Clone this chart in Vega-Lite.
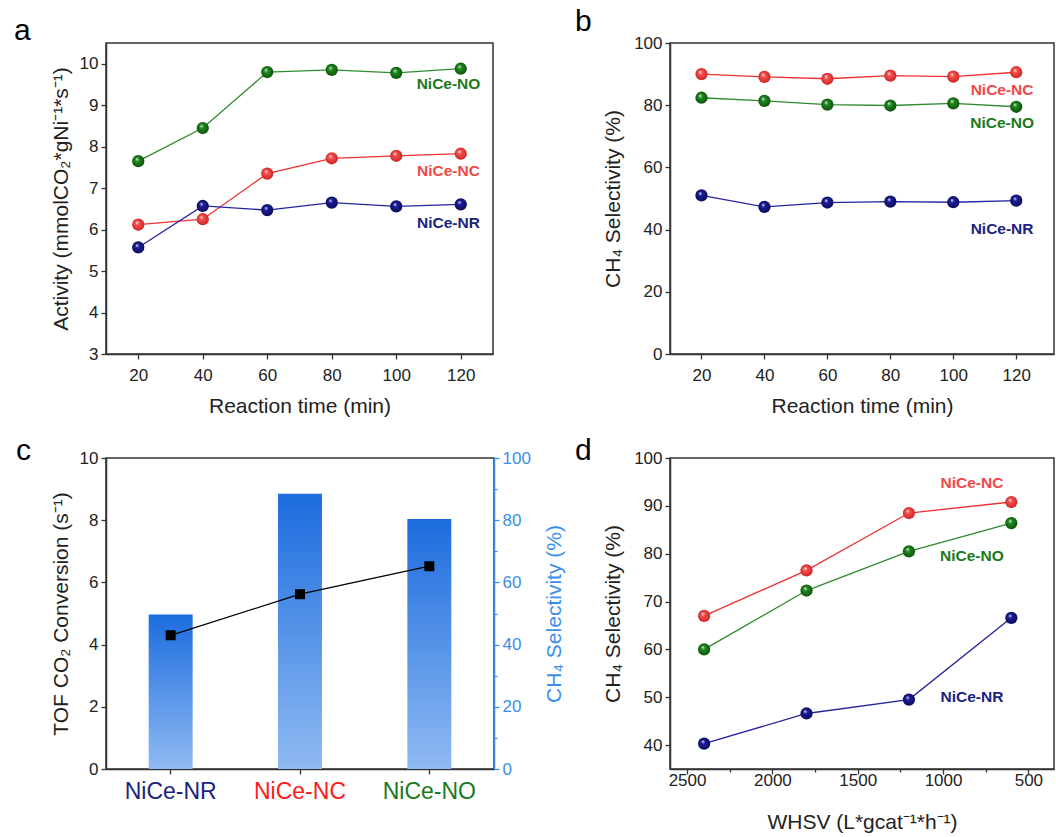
{
  "$schema": "https://vega.github.io/schema/vega-lite/v6.json",
  "padding": {"left": 13, "top": 6, "right": 0, "bottom": 0},
  "background": "white",
  "datasets": {
    "act": [
      {"time": 20, "act": 7.65, "series": "NiCe-NO"},
      {"time": 40, "act": 8.45, "series": "NiCe-NO"},
      {"time": 60, "act": 9.8, "series": "NiCe-NO"},
      {"time": 80, "act": 9.85, "series": "NiCe-NO"},
      {"time": 100, "act": 9.78, "series": "NiCe-NO"},
      {"time": 120, "act": 9.88, "series": "NiCe-NO"},
      {"time": 20, "act": 6.12, "series": "NiCe-NC"},
      {"time": 40, "act": 6.25, "series": "NiCe-NC"},
      {"time": 60, "act": 7.35, "series": "NiCe-NC"},
      {"time": 80, "act": 7.72, "series": "NiCe-NC"},
      {"time": 100, "act": 7.78, "series": "NiCe-NC"},
      {"time": 120, "act": 7.83, "series": "NiCe-NC"},
      {"time": 20, "act": 5.57, "series": "NiCe-NR"},
      {"time": 40, "act": 6.57, "series": "NiCe-NR"},
      {"time": 60, "act": 6.47, "series": "NiCe-NR"},
      {"time": 80, "act": 6.65, "series": "NiCe-NR"},
      {"time": 100, "act": 6.56, "series": "NiCe-NR"},
      {"time": 120, "act": 6.61, "series": "NiCe-NR"}
    ],
    "actLabels": [
      {"lx": 116.2, "ly": 9.51, "label": "NiCe-NO"},
      {"lx": 116.2, "ly": 7.41, "label": "NiCe-NC"},
      {"lx": 116.2, "ly": 6.15, "label": "NiCe-NR"}
    ],
    "sel": [
      {"time": 20, "sel": 90.0, "series": "NiCe-NC"},
      {"time": 40, "sel": 89.1, "series": "NiCe-NC"},
      {"time": 60, "sel": 88.5, "series": "NiCe-NC"},
      {"time": 80, "sel": 89.5, "series": "NiCe-NC"},
      {"time": 100, "sel": 89.2, "series": "NiCe-NC"},
      {"time": 120, "sel": 90.6, "series": "NiCe-NC"},
      {"time": 20, "sel": 82.4, "series": "NiCe-NO"},
      {"time": 40, "sel": 81.4, "series": "NiCe-NO"},
      {"time": 60, "sel": 80.2, "series": "NiCe-NO"},
      {"time": 80, "sel": 79.9, "series": "NiCe-NO"},
      {"time": 100, "sel": 80.6, "series": "NiCe-NO"},
      {"time": 120, "sel": 79.5, "series": "NiCe-NO"},
      {"time": 20, "sel": 51.0, "series": "NiCe-NR"},
      {"time": 40, "sel": 47.3, "series": "NiCe-NR"},
      {"time": 60, "sel": 48.7, "series": "NiCe-NR"},
      {"time": 80, "sel": 49.0, "series": "NiCe-NR"},
      {"time": 100, "sel": 48.8, "series": "NiCe-NR"},
      {"time": 120, "sel": 49.3, "series": "NiCe-NR"}
    ],
    "selLabels": [
      {"lx": 115.5, "ly": 84.9, "label": "NiCe-NC"},
      {"lx": 115.5, "ly": 74.3, "label": "NiCe-NO"},
      {"lx": 115.5, "ly": 40.2, "label": "NiCe-NR"}
    ],
    "tof": [
      {"cat": "NiCe-NR", "sel": 49.7, "tof": 4.3},
      {"cat": "NiCe-NC", "sel": 88.5, "tof": 5.62},
      {"cat": "NiCe-NO", "sel": 80.4, "tof": 6.52}
    ],
    "whsv": [
      {"whsv": 2400, "sel": 67.0, "series": "NiCe-NC"},
      {"whsv": 1800, "sel": 76.5, "series": "NiCe-NC"},
      {"whsv": 1200, "sel": 88.5, "series": "NiCe-NC"},
      {"whsv": 600, "sel": 90.8, "series": "NiCe-NC"},
      {"whsv": 2400, "sel": 60.0, "series": "NiCe-NO"},
      {"whsv": 1800, "sel": 72.3, "series": "NiCe-NO"},
      {"whsv": 1200, "sel": 80.5, "series": "NiCe-NO"},
      {"whsv": 600, "sel": 86.4, "series": "NiCe-NO"},
      {"whsv": 2400, "sel": 40.3, "series": "NiCe-NR"},
      {"whsv": 1800, "sel": 46.6, "series": "NiCe-NR"},
      {"whsv": 1200, "sel": 49.5, "series": "NiCe-NR"},
      {"whsv": 600, "sel": 66.6, "series": "NiCe-NR"}
    ],
    "whsvLabels": [
      {"lx": 831, "ly": 94.8, "label": "NiCe-NC"},
      {"lx": 831, "ly": 79.5, "label": "NiCe-NO"},
      {"lx": 831, "ly": 50.0, "label": "NiCe-NR"}
    ]
  },
  "columns": 2,
  "spacing": {"row": 104, "column": 176},
  "bounds": "flush",
  "concat": [
    {
      "title": {"text": "a", "anchor": "start", "frame": "group", "dx": -92, "offset": -3, "fontSize": 30, "fontWeight": "normal", "color": "#000"},
      "width": 387,
      "height": 311,
      "layer": [
        {
          "data": {"name": "act"},
          "mark": {"type": "line", "strokeWidth": 1.3},
          "encoding": {
            "x": {"field": "time", "type": "quantitative", "scale": {"domain": [10, 130], "nice": false, "zero": false},
              "axis": {"title": "Reaction time (min)", "values": [20, 30, 40, 50, 60, 70, 80, 90, 100, 110, 120],
                "labelExpr": "datum.value % 20 == 0 ? datum.value : ''",
                "tickSize": {"condition": {"test": "datum.value % 20 == 0", "value": 5}, "value": 3},
                "labelOverlap": false, "labelPadding": 8, "titlePadding": 12}},
            "y": {"field": "act", "type": "quantitative", "scale": {"domain": [3, 10.5], "nice": false, "zero": false},
              "axis": {"title": "Activity (mmolCO₂*gNi⁻¹*s⁻¹)", "values": [3, 4, 5, 6, 7, 8, 9, 10], "tickSize": 5, "labelOverlap": false, "labelPadding": 3, "titlePadding": 8}},
            "color": {"field": "series", "type": "nominal", "legend": null,
              "scale": {"domain": ["NiCe-NR", "NiCe-NC", "NiCe-NO"], "range": ["#2424a0", "#f03030", "#2e8b2e"]}}
          }
        },
        {
          "data": {"name": "act"},
          "transform": [{"filter": "datum.series == 'NiCe-NO'"}],
          "mark": {"type": "point", "shape": "circle", "filled": true, "size": 150, "opacity": 1, "strokeWidth": 0,
            "fill": {"gradient": "radial", "x1": 0.38, "y1": 0.32, "r1": 0, "x2": 0.5, "y2": 0.5, "r2": 0.55,
              "stops": [{"offset": 0, "color": "#e8f5e8"}, {"offset": 0.3, "color": "#1f8a1f"}, {"offset": 1, "color": "#0b4d0b"}]}},
          "encoding": {"x": {"field": "time", "type": "quantitative"}, "y": {"field": "act", "type": "quantitative"}}
        },
        {
          "data": {"name": "act"},
          "transform": [{"filter": "datum.series == 'NiCe-NC'"}],
          "mark": {"type": "point", "shape": "circle", "filled": true, "size": 150, "opacity": 1, "strokeWidth": 0,
            "fill": {"gradient": "radial", "x1": 0.38, "y1": 0.32, "r1": 0, "x2": 0.5, "y2": 0.5, "r2": 0.55,
              "stops": [{"offset": 0, "color": "#fff0f0"}, {"offset": 0.3, "color": "#f55050"}, {"offset": 1, "color": "#c82020"}]}},
          "encoding": {"x": {"field": "time", "type": "quantitative"}, "y": {"field": "act", "type": "quantitative"}}
        },
        {
          "data": {"name": "act"},
          "transform": [{"filter": "datum.series == 'NiCe-NR'"}],
          "mark": {"type": "point", "shape": "circle", "filled": true, "size": 150, "opacity": 1, "strokeWidth": 0,
            "fill": {"gradient": "radial", "x1": 0.38, "y1": 0.32, "r1": 0, "x2": 0.5, "y2": 0.5, "r2": 0.55,
              "stops": [{"offset": 0, "color": "#e8e8ff"}, {"offset": 0.3, "color": "#1c1c96"}, {"offset": 1, "color": "#0a0a55"}]}},
          "encoding": {"x": {"field": "time", "type": "quantitative"}, "y": {"field": "act", "type": "quantitative"}}
        },
        {
          "data": {"name": "actLabels"},
          "mark": {"type": "text", "fontWeight": "bold", "fontSize": 15.5, "align": "center", "baseline": "middle"},
          "encoding": {
            "x": {"field": "lx", "type": "quantitative"},
            "y": {"field": "ly", "type": "quantitative"},
            "text": {"field": "label"},
            "color": {"field": "label", "type": "nominal", "legend": null,
              "scale": {"domain": ["NiCe-NR", "NiCe-NC", "NiCe-NO"], "range": ["#1a237e", "#f04848", "#1a7a1a"]}}
          }
        }
      ],
      "resolve": {"scale": {"color": "independent"}}
    },
    {
      "title": {"text": "b", "anchor": "start", "frame": "group", "dx": -95, "offset": -3, "fontSize": 30, "fontWeight": "normal", "color": "#000"},
      "width": 384,
      "height": 311,
      "layer": [
        {
          "data": {"name": "sel"},
          "mark": {"type": "line", "strokeWidth": 1.3},
          "encoding": {
            "x": {"field": "time", "type": "quantitative", "scale": {"domain": [10, 132], "nice": false, "zero": false},
              "axis": {"title": "Reaction time (min)", "values": [20, 30, 40, 50, 60, 70, 80, 90, 100, 110, 120],
                "labelExpr": "datum.value % 20 == 0 ? datum.value : ''",
                "tickSize": {"condition": {"test": "datum.value % 20 == 0", "value": 5}, "value": 3},
                "labelOverlap": false, "labelPadding": 8, "titlePadding": 12}},
            "y": {"field": "sel", "type": "quantitative", "scale": {"domain": [0, 100], "nice": false},
              "axis": {"title": "CH₄ Selectivity (%)", "values": [0, 10, 20, 30, 40, 50, 60, 70, 80, 90, 100],
                "labelExpr": "datum.value % 20 == 0 ? datum.label : ''",
                "tickSize": {"condition": {"test": "datum.value % 20 == 0", "value": 5}, "value": 3},
                "labelOverlap": false, "labelPadding": 3, "titlePadding": 10}},
            "color": {"field": "series", "type": "nominal", "legend": null,
              "scale": {"domain": ["NiCe-NR", "NiCe-NC", "NiCe-NO"], "range": ["#2424a0", "#f03030", "#2e8b2e"]}}
          }
        },
        {
          "data": {"name": "sel"},
          "transform": [{"filter": "datum.series == 'NiCe-NO'"}],
          "mark": {"type": "point", "shape": "circle", "filled": true, "size": 150, "opacity": 1, "strokeWidth": 0,
            "fill": {"gradient": "radial", "x1": 0.38, "y1": 0.32, "r1": 0, "x2": 0.5, "y2": 0.5, "r2": 0.55,
              "stops": [{"offset": 0, "color": "#e8f5e8"}, {"offset": 0.3, "color": "#1f8a1f"}, {"offset": 1, "color": "#0b4d0b"}]}},
          "encoding": {"x": {"field": "time", "type": "quantitative"}, "y": {"field": "sel", "type": "quantitative"}}
        },
        {
          "data": {"name": "sel"},
          "transform": [{"filter": "datum.series == 'NiCe-NC'"}],
          "mark": {"type": "point", "shape": "circle", "filled": true, "size": 150, "opacity": 1, "strokeWidth": 0,
            "fill": {"gradient": "radial", "x1": 0.38, "y1": 0.32, "r1": 0, "x2": 0.5, "y2": 0.5, "r2": 0.55,
              "stops": [{"offset": 0, "color": "#fff0f0"}, {"offset": 0.3, "color": "#f55050"}, {"offset": 1, "color": "#c82020"}]}},
          "encoding": {"x": {"field": "time", "type": "quantitative"}, "y": {"field": "sel", "type": "quantitative"}}
        },
        {
          "data": {"name": "sel"},
          "transform": [{"filter": "datum.series == 'NiCe-NR'"}],
          "mark": {"type": "point", "shape": "circle", "filled": true, "size": 150, "opacity": 1, "strokeWidth": 0,
            "fill": {"gradient": "radial", "x1": 0.38, "y1": 0.32, "r1": 0, "x2": 0.5, "y2": 0.5, "r2": 0.55,
              "stops": [{"offset": 0, "color": "#e8e8ff"}, {"offset": 0.3, "color": "#1c1c96"}, {"offset": 1, "color": "#0a0a55"}]}},
          "encoding": {"x": {"field": "time", "type": "quantitative"}, "y": {"field": "sel", "type": "quantitative"}}
        },
        {
          "data": {"name": "selLabels"},
          "mark": {"type": "text", "fontWeight": "bold", "fontSize": 15.5, "align": "center", "baseline": "middle"},
          "encoding": {
            "x": {"field": "lx", "type": "quantitative"},
            "y": {"field": "ly", "type": "quantitative"},
            "text": {"field": "label"},
            "color": {"field": "label", "type": "nominal", "legend": null,
              "scale": {"domain": ["NiCe-NR", "NiCe-NC", "NiCe-NO"], "range": ["#1a237e", "#f04848", "#1a7a1a"]}}
          }
        }
      ],
      "resolve": {"scale": {"color": "independent"}}
    },
    {
      "title": {"text": "c", "anchor": "start", "frame": "group", "dx": -90, "offset": -17, "fontSize": 30, "fontWeight": "normal", "color": "#000"},
      "width": 388,
      "height": 311,
      "data": {"name": "tof"},
      "layer": [
        {
          "mark": {"type": "bar",
            "color": {"gradient": "linear", "x1": 0, "y1": 0, "x2": 0, "y2": 1,
              "stops": [{"offset": 0, "color": "#1c6cde"}, {"offset": 1, "color": "#8fbaf2"}]}},
          "encoding": {
            "x": {"field": "cat", "type": "nominal", "sort": ["NiCe-NR", "NiCe-NC", "NiCe-NO"],
              "scale": {"paddingInner": 0.66, "paddingOuter": 0.33},
              "axis": {"title": null, "labelAngle": 0, "labelFontSize": 23, "tickSize": 5, "labelPadding": 6,
                "labelColor": {"condition": [{"test": "datum.value == 'NiCe-NR'", "value": "#1a237e"}, {"test": "datum.value == 'NiCe-NC'", "value": "#ff1a1a"}], "value": "#1a7a1a"}}},
            "y": {"field": "sel", "type": "quantitative", "scale": {"domain": [0, 100], "nice": false},
              "axis": {"orient": "right", "title": "CH₄ Selectivity (%)", "values": [0, 10, 20, 30, 40, 50, 60, 70, 80, 90, 100],
                "labelExpr": "datum.value % 20 == 0 ? datum.label : ''",
                "tickSize": {"condition": {"test": "datum.value % 20 == 0", "value": 5}, "value": 3},
                "domainColor": "#3a8eeb", "tickColor": "#3a8eeb", "labelColor": "#3a8eeb", "titleColor": "#3a8eeb",
                "titleAngle": 270, "labelOverlap": false, "labelPadding": 3, "titlePadding": 34}}
          }
        },
        {
          "layer": [
            {
              "mark": {"type": "line", "color": "#000", "strokeWidth": 1.3},
              "encoding": {
                "x": {"field": "cat", "type": "nominal", "sort": ["NiCe-NR", "NiCe-NC", "NiCe-NO"]},
                "y": {"field": "tof", "type": "quantitative", "scale": {"domain": [0, 10], "nice": false},
                  "axis": {"orient": "left", "title": "TOF CO₂ Conversion (s⁻¹)", "values": [0, 1, 2, 3, 4, 5, 6, 7, 8, 9, 10],
                    "labelExpr": "datum.value % 2 == 0 ? datum.label : ''",
                    "tickSize": {"condition": {"test": "datum.value % 2 == 0", "value": 5}, "value": 3},
                    "labelOverlap": false, "labelPadding": 3, "titlePadding": 8}}
              }
            },
            {
              "mark": {"type": "point", "shape": "square", "filled": true, "size": 100, "color": "#000", "opacity": 1},
              "encoding": {
                "x": {"field": "cat", "type": "nominal", "sort": ["NiCe-NR", "NiCe-NC", "NiCe-NO"]},
                "y": {"field": "tof", "type": "quantitative"}
              }
            }
          ]
        }
      ],
      "resolve": {"scale": {"y": "independent"}}
    },
    {
      "title": {"text": "d", "anchor": "start", "frame": "group", "dx": -95, "offset": -17, "fontSize": 30, "fontWeight": "normal", "color": "#000"},
      "width": 384,
      "height": 311,
      "layer": [
        {
          "data": {"name": "whsv"},
          "mark": {"type": "line", "strokeWidth": 1.3},
          "encoding": {
            "x": {"field": "whsv", "type": "quantitative", "scale": {"domain": [350, 2600], "reverse": true, "nice": false, "zero": false},
              "axis": {"title": "WHSV (L*gcat⁻¹*h⁻¹)", "values": [500, 750, 1000, 1250, 1500, 1750, 2000, 2250, 2500],
                "labelExpr": "datum.value % 500 == 0 ? datum.value : ''",
                "tickSize": {"condition": {"test": "datum.value % 500 == 0", "value": 5}, "value": 3},
                "labelOverlap": false, "labelPadding": -2, "titlePadding": 23}},
            "y": {"field": "sel", "type": "quantitative", "scale": {"domain": [35, 100], "nice": false, "zero": false},
              "axis": {"title": "CH₄ Selectivity (%)", "values": [40, 45, 50, 55, 60, 65, 70, 75, 80, 85, 90, 95, 100],
                "labelExpr": "datum.value % 10 == 0 ? datum.label : ''",
                "tickSize": {"condition": {"test": "datum.value % 10 == 0", "value": 5}, "value": 3},
                "labelOverlap": false, "labelPadding": 3, "titlePadding": 10}},
            "color": {"field": "series", "type": "nominal", "legend": null,
              "scale": {"domain": ["NiCe-NR", "NiCe-NC", "NiCe-NO"], "range": ["#2424a0", "#f03030", "#2e8b2e"]}}
          }
        },
        {
          "data": {"name": "whsv"},
          "transform": [{"filter": "datum.series == 'NiCe-NO'"}],
          "mark": {"type": "point", "shape": "circle", "filled": true, "size": 150, "opacity": 1, "strokeWidth": 0,
            "fill": {"gradient": "radial", "x1": 0.38, "y1": 0.32, "r1": 0, "x2": 0.5, "y2": 0.5, "r2": 0.55,
              "stops": [{"offset": 0, "color": "#e8f5e8"}, {"offset": 0.3, "color": "#1f8a1f"}, {"offset": 1, "color": "#0b4d0b"}]}},
          "encoding": {"x": {"field": "whsv", "type": "quantitative"}, "y": {"field": "sel", "type": "quantitative"}}
        },
        {
          "data": {"name": "whsv"},
          "transform": [{"filter": "datum.series == 'NiCe-NC'"}],
          "mark": {"type": "point", "shape": "circle", "filled": true, "size": 150, "opacity": 1, "strokeWidth": 0,
            "fill": {"gradient": "radial", "x1": 0.38, "y1": 0.32, "r1": 0, "x2": 0.5, "y2": 0.5, "r2": 0.55,
              "stops": [{"offset": 0, "color": "#fff0f0"}, {"offset": 0.3, "color": "#f55050"}, {"offset": 1, "color": "#c82020"}]}},
          "encoding": {"x": {"field": "whsv", "type": "quantitative"}, "y": {"field": "sel", "type": "quantitative"}}
        },
        {
          "data": {"name": "whsv"},
          "transform": [{"filter": "datum.series == 'NiCe-NR'"}],
          "mark": {"type": "point", "shape": "circle", "filled": true, "size": 150, "opacity": 1, "strokeWidth": 0,
            "fill": {"gradient": "radial", "x1": 0.38, "y1": 0.32, "r1": 0, "x2": 0.5, "y2": 0.5, "r2": 0.55,
              "stops": [{"offset": 0, "color": "#e8e8ff"}, {"offset": 0.3, "color": "#1c1c96"}, {"offset": 1, "color": "#0a0a55"}]}},
          "encoding": {"x": {"field": "whsv", "type": "quantitative"}, "y": {"field": "sel", "type": "quantitative"}}
        },
        {
          "data": {"name": "whsvLabels"},
          "mark": {"type": "text", "fontWeight": "bold", "fontSize": 15.5, "align": "center", "baseline": "middle"},
          "encoding": {
            "x": {"field": "lx", "type": "quantitative"},
            "y": {"field": "ly", "type": "quantitative"},
            "text": {"field": "label"},
            "color": {"field": "label", "type": "nominal", "legend": null,
              "scale": {"domain": ["NiCe-NR", "NiCe-NC", "NiCe-NO"], "range": ["#1a237e", "#f04848", "#1a7a1a"]}}
          }
        }
      ],
      "resolve": {"scale": {"color": "independent"}}
    }
  ],
  "config": {
    "font": "Liberation Sans",
    "view": {"stroke": "#333", "strokeWidth": 1.5},
    "title": {"font": "Liberation Sans"},
    "text": {"font": "Liberation Sans"},
    "axis": {
      "grid": false,
      "domainColor": "#333",
      "domainWidth": 1.5,
      "tickColor": "#333",
      "tickWidth": 1.3,
      "labelFont": "Liberation Sans",
      "labelFontSize": 17,
      "labelColor": "#222",
      "titleFont": "Liberation Sans",
      "titleFontSize": 21,
      "titleFontWeight": "normal",
      "titleColor": "#222"
    }
  }
}
